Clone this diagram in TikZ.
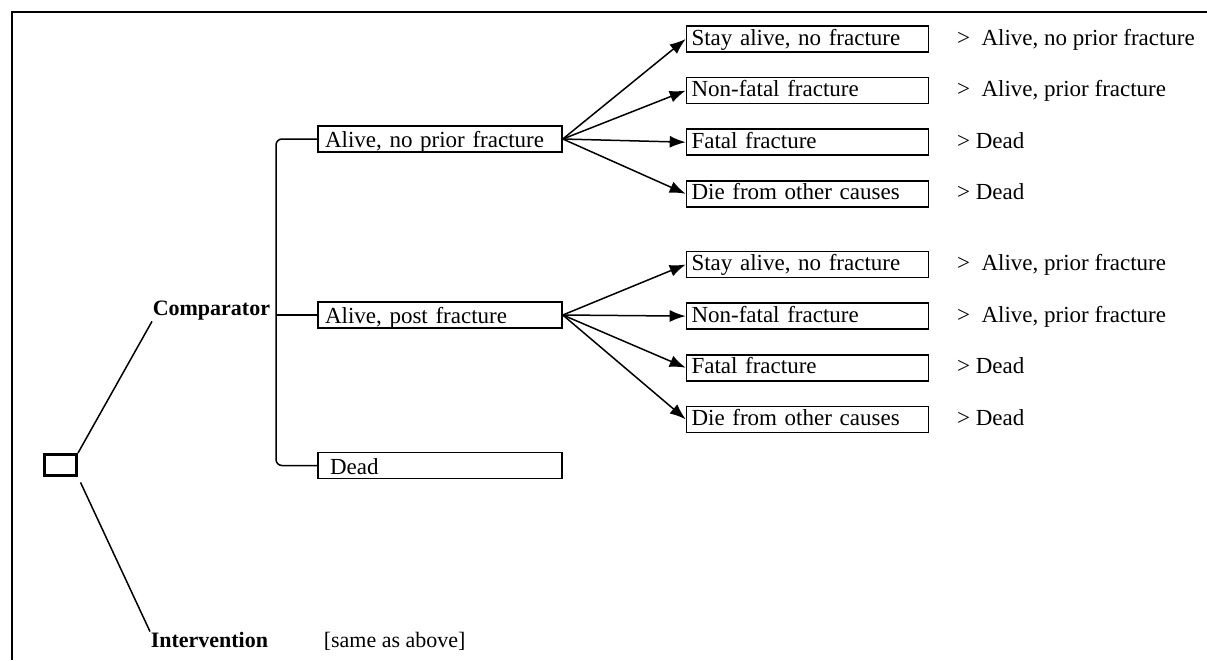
\documentclass[tikz,border=0pt]{standalone}
\usepackage{fontspec}
\setmainfont{Liberation Serif}
\usetikzlibrary{positioning}
\usetikzlibrary{arrows.meta}

\begin{document}
\begin{tikzpicture}[x=0.5pt,y=-0.5pt,line width=0.75pt,
      state style/.style={rectangle,draw=black,line width=0.8pt,inner
        xsep=3.5pt,inner ysep=0pt,text width=115pt,align=left,text
        height=10.75pt,text depth=2.25pt,font=\fontsize{11.5}{13}\selectfont},
      event style/.style={rectangle,draw=black,line width=0.8pt,inner
        xsep=2.5pt,inner ysep=0pt,text width=116pt,align=left,text
        height=9.5pt,text depth=3.5pt,font=\fontsize{11.5}{13}\selectfont},
      goto style/.style={inner sep=0pt,text height=9.5pt,text
        depth=3.5pt,font=\fontsize{11.5}{13}\selectfont},
      arm style/.style={inner sep=0pt,anchor=west,font=\bfseries\fontsize{11}{13}\selectfont},
      arrow style/.style={-{Latex[length=8pt,width=6pt]}}
      ]
      \useasboundingbox (0,0) rectangle (1207,660);
      \draw[line width=1pt] (1207,12) -- (12,12) -- (12,660);

      \node[draw=black,line width=1.5pt,minimum width=16pt,minimum
        height=10.5pt,inner sep=0pt] (dec) at (60.5,465) {};
      \node[arm style] (comp) at (152,311) {Comparator};
      \node[arm style] (int) at (150,640) {Intervention};
      \node[inner sep=0pt,anchor=west,font=\fontsize{11}{13}\selectfont]
        (same) at (323,641) {[same as above]};

      \node[state style] (alive) at (440,139) {Alive, no prior fracture};
      \node[state style] (post) at (440,315) {Alive, post fracture};
      \node[state style] (dead) at (440,465.5) {\hspace*{2.5pt}Dead};

      % no prior fracture
      \node[event style] (stay1) at (807.5,39) {Stay alive, no fracture};
      \node[event style,below=12pt of stay1] (nonfatal1) {Non-fatal fracture};
      \node[event style,below=12pt of nonfatal1] (fatal1) {Fatal fracture};
      \node[event style,below=12pt of fatal1] (other1) {Die from other causes};
      \node[goto style,right=13.5pt of stay1] (to1) {>\ \ Alive, no prior fracture};
      \node[goto style,right=13.5pt of nonfatal1] (to2) {>\ \ Alive, prior fracture};
      \node[goto style,right=13.5pt of fatal1] (to3) {> Dead};
      \node[goto style,right=13.5pt of other1] (to4) {> Dead};

      % post fracture
      \node[event style] (stay2) at (807.5,264.5) {Stay alive, no fracture};
      \node[event style,below=12pt of stay2] (nonfatal2) {Non-fatal fracture};
      \node[event style,below=12pt of nonfatal2] (fatal2) {Fatal fracture};
      \node[event style,below=12pt of fatal2] (other2) {Die from other causes};
      \node[goto style,right=13.5pt of stay2] (to5) {>\ \ Alive, prior fracture};
      \node[goto style,right=13.5pt of nonfatal2] (to6) {>\ \ Alive, prior fracture};
      \node[goto style,right=13.5pt of fatal2] (to7) {> Dead};
      \node[goto style,right=13.5pt of other2] (to8) {> Dead};

      \coordinate (fork) at (276,315);

      \draw (dec.north east) -- (comp.south west);
      \draw[shorten <=3pt] (dec.south east) -- (int.north west);
      \draw[rounded corners=3pt] (alive.west) -| (fork) |- (dead.west);
      \draw (fork) -- (post.west);

      \draw[arrow style] (alive.east) -- (stay1.west);
      \draw[arrow style] (alive.east) -- (nonfatal1.west);
      \draw[arrow style] (alive.east) -- (fatal1.west);
      \draw[arrow style] (alive.east) -- (other1.west);

      \draw[arrow style] (post.east) -- (stay2.west);
      \draw[arrow style] (post.east) -- (nonfatal2.west);
      \draw[arrow style] (post.east) -- (fatal2.west);
      \draw[arrow style] (post.east) -- (other2.west);

    \end{tikzpicture}
\end{document}
